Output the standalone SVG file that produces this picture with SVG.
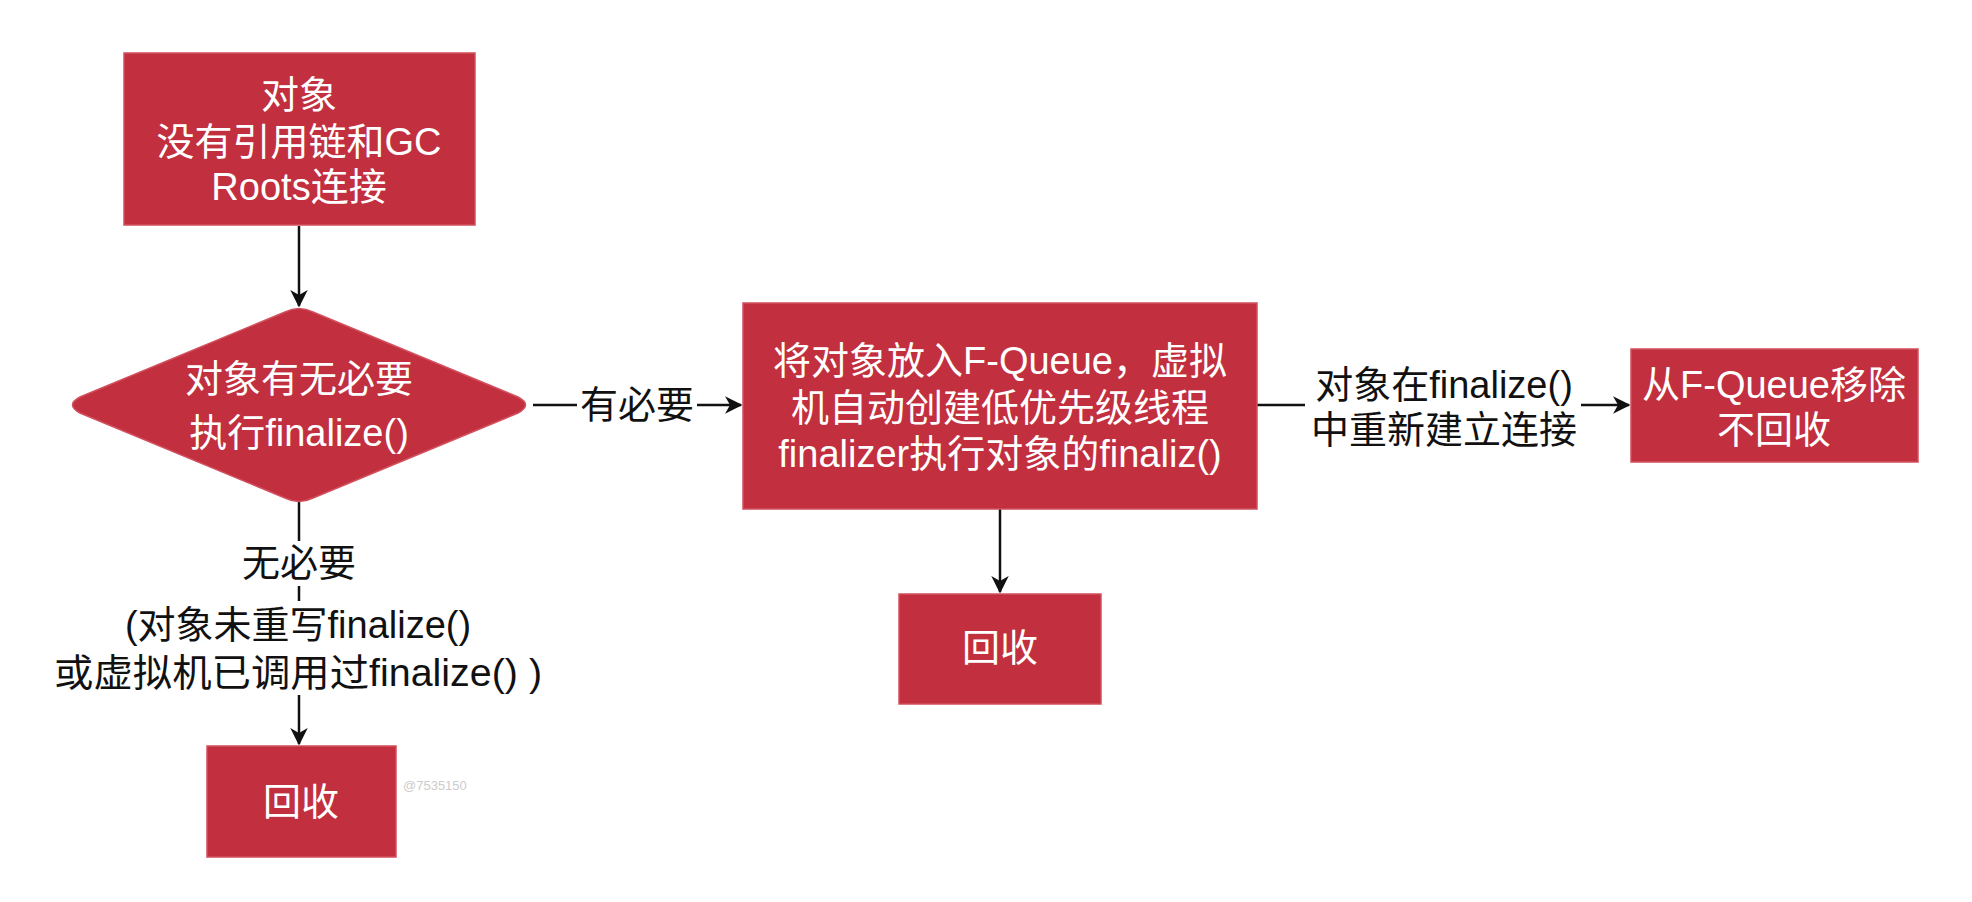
<svg xmlns="http://www.w3.org/2000/svg" width="1972" height="902" viewBox="0 0 1972 902">
<style>
.node{fill:#C22F3F;stroke:#D2505E;stroke-width:1.5}
.nt{fill:#ffffff;font-family:"Liberation Sans","Noto Sans CJK SC",sans-serif;font-size:38px;text-anchor:middle}
.lt{fill:#111111;font-family:"Liberation Sans","Noto Sans CJK SC",sans-serif;font-size:38px;text-anchor:middle}
.edge{stroke:#111111;stroke-width:2.5;fill:none}
.bg{fill:#ffffff}
</style>
<defs>
<marker id="arr" viewBox="0 0 12 12" refX="11" refY="6" markerWidth="7" markerHeight="7" markerUnits="strokeWidth" orient="auto">
<path d="M0,0 L12,6 L0,12 L3.5,6 z" fill="#111111"/>
</marker>
</defs>
<rect width="1972" height="902" fill="#ffffff"/>
<g id="connectors">
<path class="edge" d="M299,226 L299,306" marker-end="url(#arr)"/>
<path class="edge" d="M533,405 L741,405" marker-end="url(#arr)"/>
<rect class="bg" x="577" y="380" width="120" height="50"/>
<text class="lt" x="637" y="418">有必要</text>
<path class="edge" d="M299,502 L299,744" marker-end="url(#arr)"/>
<rect class="bg" x="240" y="541" width="118" height="45"/>
<text class="lt" x="299" y="576">无必要</text>
<rect class="bg" x="50" y="601" width="500" height="94"/>
<text class="lt" x="298" y="638">(对象未重写finalize()</text>
<text class="lt" x="298" y="686" textLength="488" lengthAdjust="spacingAndGlyphs">或虚拟机已调用过finalize() )</text>
<path class="edge" d="M1000,509 L1000,592" marker-end="url(#arr)"/>
<path class="edge" d="M1257,405 L1629,405" marker-end="url(#arr)"/>
<rect class="bg" x="1305" y="360" width="276" height="95"/>
<text class="lt" x="1444" y="398">对象在finalize()</text>
<text class="lt" x="1444" y="443">中重新建立连接</text>
</g>
<g id="start">
<rect class="node" x="124" y="53" width="351" height="172"/>
<text class="nt" x="299" y="108">对象</text>
<text class="nt" x="299" y="155">没有引用链和GC</text>
<text class="nt" x="299" y="200">Roots连接</text>
</g>
<g id="decision">
<path class="node" d="M285,312 Q299,305 313,312 L518,397 Q533,405 518,413 L313,498 Q299,505 285,498 L80,413 Q65,405 80,397 Z"/>
<text class="nt" x="299" y="392">对象有无必要</text>
<text class="nt" x="299" y="446">执行finalize()</text>
</g>
<g id="fqueue">
<rect class="node" x="743" y="303" width="514" height="206"/>
<text class="nt" x="1000" y="374">将对象放入F-Queue，虚拟</text>
<text class="nt" x="1000" y="421">机自动创建低优先级线程</text>
<text class="nt" x="1000" y="467">finalizer执行对象的finaliz()</text>
</g>
<g id="recycle1">
<rect class="node" x="207" y="746" width="189" height="111"/>
<text class="nt" x="301" y="815">回收</text>
</g>
<g id="recycle2">
<rect class="node" x="899" y="594" width="202" height="110"/>
<text class="nt" x="1000" y="661">回收</text>
</g>
<g id="remove">
<rect class="node" x="1631" y="349" width="287" height="113"/>
<text class="nt" x="1774" y="398">从F-Queue移除</text>
<text class="nt" x="1774" y="443">不回收</text>
</g>
<text x="403" y="790" fill="#cccccc" font-family="Liberation Sans, sans-serif" font-size="13">@7535150</text>
</svg>
